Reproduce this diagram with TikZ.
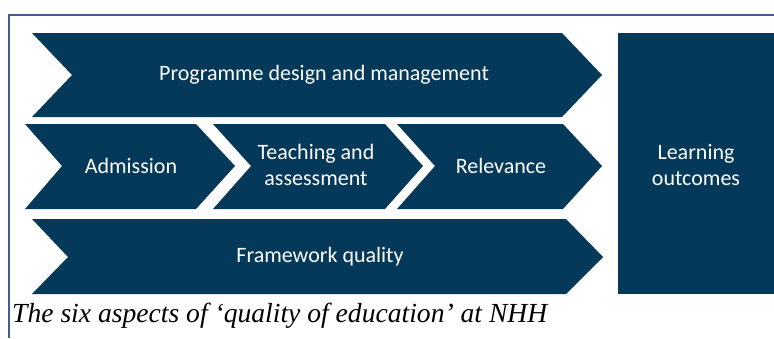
\documentclass[tikz,border=0pt]{standalone}
\usepackage{fontspec}
\setmainfont{Liberation Serif}
\setsansfont{Carlito}

\definecolor{nhhnavy}{RGB}{4,57,90}
\definecolor{framecol}{RGB}{70,90,140}

\tikzset{
  aspect/.style={fill=nhhnavy},
  aspectlabel/.style={text=white, font=\sffamily\fontsize{22}{26}\selectfont, align=center},
}

\begin{document}
\begin{tikzpicture}[x=1pt, y=-1pt]
    \useasboundingbox (0,0) rectangle (774,338);
    \draw[framecol, line width=1.5pt] (9,338) -- (9,15) -- (774,15);

    % top row
    \fill[aspect] (32,33) -- (562,33) -- (602,75) -- (562,117) -- (32,117) -- (72,75) -- cycle;
    \node[aspectlabel] (design) at (324,75) {Programme design and management};

    % middle row
    \fill[aspect] (25,124) -- (196,124) -- (235,166) -- (196,209) -- (25,209) -- (62,166) -- cycle;
    \node[aspectlabel] (admission) at (131,166) {Admission};
    \fill[aspect] (213,124) -- (385,124) -- (423,166) -- (385,209) -- (213,209) -- (251,166) -- cycle;
    \node[aspectlabel] (teaching) at (316,165) {Teaching and\\assessment};
    \fill[aspect] (397,124) -- (563,124) -- (602,166) -- (563,209) -- (397,209) -- (435,166) -- cycle;
    \node[aspectlabel] (relevance) at (501,166) {Relevance};

    % bottom row
    \fill[aspect] (32,219) -- (566,219) -- (603,257) -- (566,294) -- (32,294) -- (68,257) -- cycle;
    \node[aspectlabel] (framework) at (320,257) {Framework quality};

    % outcome block
    \fill[aspect] (618,33) rectangle (774,294);
    \node[aspectlabel] (outcomes) at (696,165) {Learning\\outcomes};

    \node[anchor=base west, inner sep=0pt, font=\itshape\fontsize{27.6}{32}\selectfont] (caption) at (12,322)
        {The six aspects of ‘quality of education’ at NHH};
\end{tikzpicture}
\end{document}
